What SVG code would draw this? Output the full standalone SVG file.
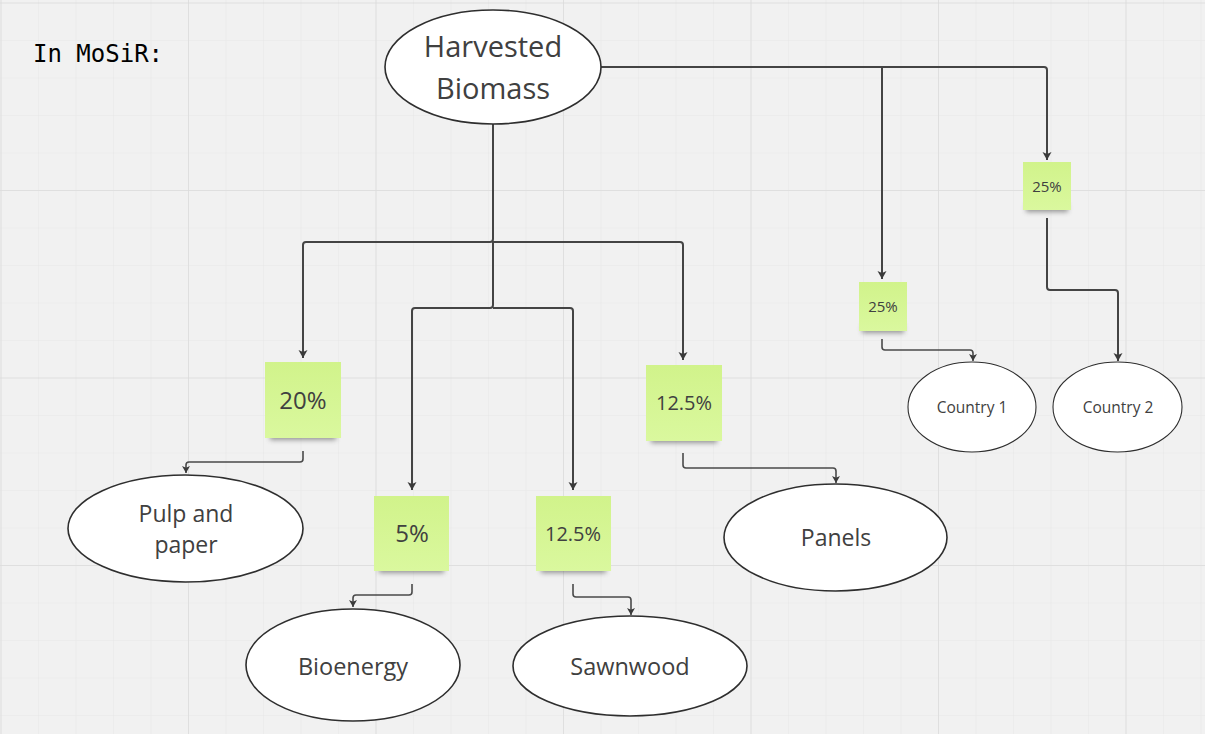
<svg xmlns="http://www.w3.org/2000/svg" width="1205" height="734" viewBox="0 0 1205 734">
<defs>
<pattern id="minor" patternUnits="userSpaceOnUse" x="0.5" y="2.5" width="37.5" height="37.5">
<path d="M0,0 V37.5 M0,0 H37.5" stroke="#e7e7e7" stroke-width="1.1" fill="none"/>
</pattern>
<pattern id="major" patternUnits="userSpaceOnUse" x="0.5" y="2.5" width="187.5" height="187.5">
<path d="M0,0 V187.5 M0,0 H187.5" stroke="#dcdcdc" stroke-width="1.6" fill="none"/>
</pattern>
<linearGradient id="stick" x1="0" y1="0" x2="0" y2="1">
<stop offset="0" stop-color="#d1f38b"/>
<stop offset="1" stop-color="#daf89e"/>
</linearGradient>
<filter id="blur" x="-20%" y="-100%" width="140%" height="300%">
<feGaussianBlur stdDeviation="2.5"/>
</filter>
<marker id="arr" markerUnits="userSpaceOnUse" markerWidth="10" markerHeight="10" refX="8" refY="4.5" orient="auto">
<path d="M0,0 L8,4.5 L0,9 L2,4.5 z" fill="#3a3a3a"/>
</marker>
<marker id="arrs" markerUnits="userSpaceOnUse" markerWidth="10" markerHeight="10" refX="7" refY="4" orient="auto">
<path d="M0,0 L7,4 L0,8 L1.8,4 z" fill="#3a3a3a"/>
</marker>
</defs>
<style>
.node ellipse{fill:#ffffff;stroke:#2e2e2e;stroke-width:1.6}
.lbl{font-family:"Open Sans","Noto Sans","DejaVu Sans",sans-serif;fill:#404040;text-anchor:middle}
.note rect.s{fill:url(#stick)}
.note rect.sh{fill:#4a4a4a;opacity:0.55;filter:url(#blur)}
.c{fill:none;stroke:#444444;stroke-width:2;stroke-linejoin:round}
.c2{fill:none;stroke:#4a4a4a;stroke-width:1.6;stroke-linejoin:round}
</style>
<rect width="1205" height="734" fill="#f1f1f1"/>
<rect width="1205" height="734" fill="url(#minor)"/>
<rect width="1205" height="734" fill="url(#major)"/>

<text x="33" y="62" font-family="'DejaVu Sans Mono','Liberation Mono',monospace" font-size="24" fill="#000000">In MoSiR:</text>

<g id="connectors">
<path class="c" d="M493,124 V239 Q493,242 490,242 H306 Q303,242 303,245 V358" marker-end="url(#arr)"/>
<path class="c" d="M493,242 H680 Q683,242 683,245 V360" marker-end="url(#arr)"/>
<path class="c" d="M493,242 V305 Q493,308 490,308 H415 Q412,308 412,311 V490" marker-end="url(#arr)"/>
<path class="c" d="M493,308 H570 Q573,308 573,311 V490" marker-end="url(#arr)"/>
<path class="c" d="M600,67 H1044 Q1047,67 1047,70 V160" marker-end="url(#arr)"/>
<path class="c" d="M882,67 V279" marker-end="url(#arr)"/>
<path class="c" d="M1047,218 V287 Q1047,290 1050,290 H1115 Q1118,290 1118,293 V361" marker-end="url(#arr)"/>
<path class="c2" d="M882,339 V347 Q882,350 885,350 H970 Q973,350 973,353 V361" marker-end="url(#arrs)"/>
<path class="c2" d="M303,451 V459 Q303,462 300,462 H189 Q186,462 186,465 V473" marker-end="url(#arrs)"/>
<path class="c2" d="M412,584 V592 Q412,595 409,595 H356 Q353,595 353,598 V607" marker-end="url(#arrs)"/>
<path class="c2" d="M573,584 V594 Q573,597 576,597 H628 Q631,597 631,600 V615" marker-end="url(#arrs)"/>
<path class="c2" d="M683,453 V465 Q683,468 686,468 H833 Q836,468 836,471 V483" marker-end="url(#arrs)"/>
</g>

<g id="harvested" class="node">
<ellipse cx="493" cy="67" rx="108" ry="57"/>
<text class="lbl" x="493" y="57" font-size="29">Harvested</text>
<text class="lbl" x="493" y="99" font-size="29">Biomass</text>
</g>

<g id="note20" class="note">
<rect class="sh" x="270" y="430" width="66" height="10"/>
<rect class="s" x="265" y="362" width="76" height="76"/>
<text class="lbl" x="303" y="409" font-size="24">20%</text>
</g>
<g id="note5" class="note">
<rect class="sh" x="379" y="563" width="65" height="10"/>
<rect class="s" x="374" y="496" width="75" height="75"/>
<text class="lbl" x="412" y="542" font-size="24">5%</text>
</g>
<g id="note125s" class="note">
<rect class="sh" x="541" y="563" width="65" height="10"/>
<rect class="s" x="536" y="496" width="75" height="75"/>
<text class="lbl" x="573" y="541" font-size="20">12.5%</text>
</g>
<g id="note125p" class="note">
<rect class="sh" x="651" y="433" width="66" height="10"/>
<rect class="s" x="646" y="365" width="76" height="76"/>
<text class="lbl" x="684" y="410" font-size="20">12.5%</text>
</g>
<g id="note25a" class="note">
<rect class="sh" x="862" y="325" width="42" height="8"/>
<rect class="s" x="859" y="282" width="48" height="49"/>
<text class="lbl" x="883" y="312" font-size="15">25%</text>
</g>
<g id="note25b" class="note">
<rect class="sh" x="1026" y="204" width="42" height="8"/>
<rect class="s" x="1023" y="162" width="48" height="48"/>
<text class="lbl" x="1047" y="192" font-size="15">25%</text>
</g>

<g id="pulp" class="node">
<ellipse cx="185.5" cy="528.5" rx="117.5" ry="53.5"/>
<text class="lbl" x="186" y="522" font-size="23">Pulp and</text>
<text class="lbl" x="186" y="553" font-size="23">paper</text>
</g>
<g id="bioenergy" class="node">
<ellipse cx="353" cy="665" rx="107" ry="56"/>
<text class="lbl" x="353" y="675" font-size="23.5">Bioenergy</text>
</g>
<g id="sawnwood" class="node">
<ellipse cx="630" cy="666" rx="117" ry="50"/>
<text class="lbl" x="630" y="675" font-size="23.5">Sawnwood</text>
</g>
<g id="panels" class="node">
<ellipse cx="835.5" cy="537.5" rx="111.5" ry="53.5"/>
<text class="lbl" x="836" y="546" font-size="23">Panels</text>
</g>
<g id="country1" class="node">
<ellipse cx="972" cy="407" rx="64" ry="45" style="stroke-width:1.1"/>
<text class="lbl" x="972" y="413" font-size="15.5">Country 1</text>
</g>
<g id="country2" class="node">
<ellipse cx="1117.5" cy="407" rx="64.5" ry="45" style="stroke-width:1.1"/>
<text class="lbl" x="1118" y="413" font-size="15.5">Country 2</text>
</g>
</svg>
